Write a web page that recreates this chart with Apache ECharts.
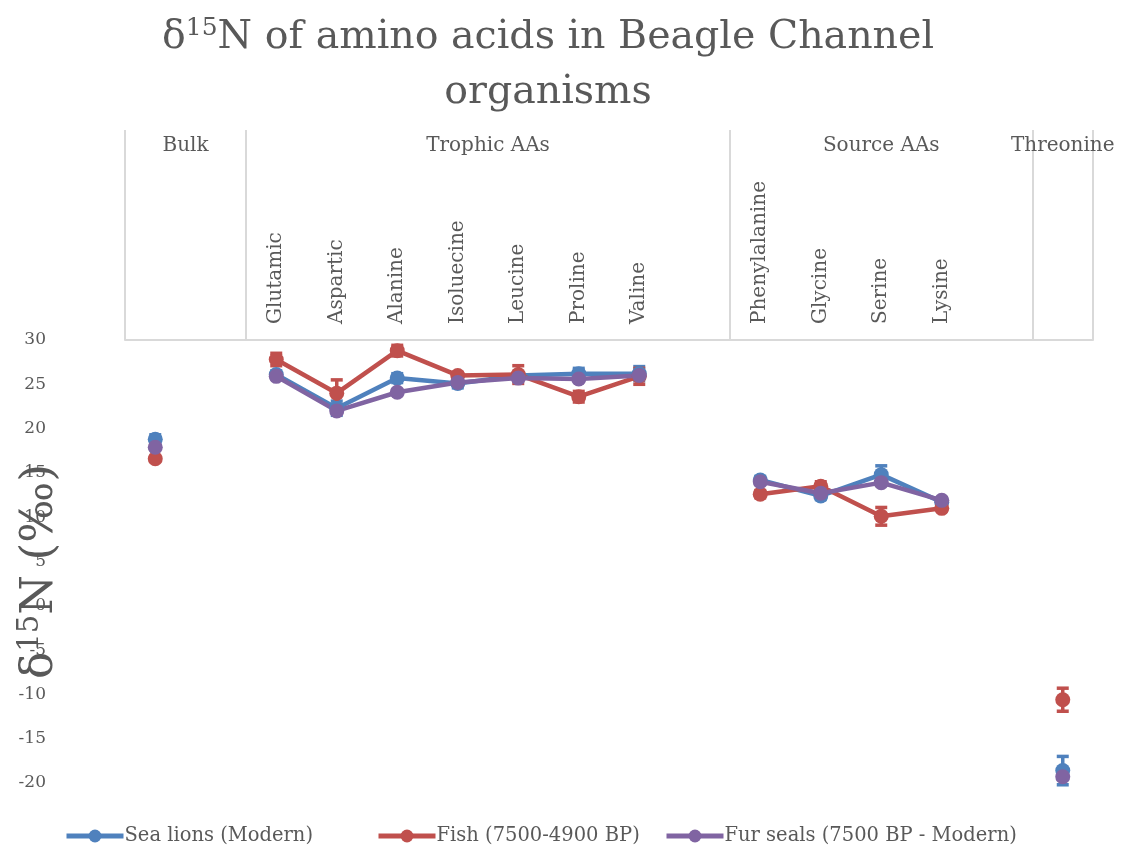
<!DOCTYPE html>
<html>
<head>
<meta charset="utf-8">
<title>δ15N of amino acids in Beagle Channel organisms</title>
<script src="https://cdn.jsdelivr.net/npm/echarts@6/dist/echarts.min.js"></script>
<style>
  html, body { margin: 0; padding: 0; background: #ffffff; }
  #chart { width: 1129px; height: 853px; }
</style>
</head>
<body>
<div id="chart"></div>
<script>
// Amino acid categories (blank entries are spacer slots between groups)
const categories = ['Bulk', '', 'Glutamic', 'Aspartic', 'Alanine', 'Isoluecine', 'Leucine', 'Proline', 'Valine', '',
  'Phenylalanine', 'Glycine', 'Serine', 'Lysine', '', 'Threonine'];

// Category groups and how many category slots each one spans
const groupNames = ['Bulk', 'Trophic AAs', 'Source AAs', 'Threonine'];
const groupSpans = [2, 8, 5, 1];

const seriesNames = ['Sea lions (Modern)', 'Fish (7500-4900 BP)', 'Fur seals (7500 BP - Modern)'];

// Mean δ15N values (‰)
const seaLions = [18.8, null, 26.1, 22.3, 25.7, 25.1, 26.0, 26.2, 26.2, null, 14.2, 12.4, 14.8, 11.7, null, -18.6];
const fish = [16.6, null, 27.8, 24.0, 28.8, 26.0, 26.1, 23.6, 25.9, null, 12.6, 13.5, 10.1, 11.0, null, -10.6];
const furSeals = [17.9, null, 25.9, 22.0, 24.1, 25.2, 25.7, 25.6, 26.0, null, 14.0, 12.7, 13.9, 11.9, null, -19.3];

// Standard deviations
const seaLionsErr = [0.5, null, 0.4, 0.8, 0.5, 0.5, 0.3, 0.6, 0.8, null, 0.4, 0.4, 1.0, 0.3, null, 1.6];
const fishErr = [0.3, null, 0.7, 1.5, 0.6, 0.3, 1.0, 0.6, 0.9, null, 0.4, 0.5, 1.0, 0.3, null, 1.3];
const furSealsErr = [0.3, null, 0.3, 0.3, 0.3, 0.3, 0.3, 0.3, 0.3, null, 0.3, 0.3, 0.3, 0.3, null, 0.3];

// Y axis range
const yMin = -20, yMax = 30, yStep = 5;

const colors = ['#4F81BD', '#C0504D', '#8064A2'];
const textColor = '#595959';
const frameColor = '#D9D9D9';
const serif = 'DejaVu Serif';

// Group boundaries and centres along the category axis
const groupEdges = [0];
groupSpans.forEach(function (s) { groupEdges.push(groupEdges[groupEdges.length - 1] + s); });
const groupCentres = groupSpans.map(function (s, i) { return groupEdges[i] + s / 2; });

function errorData(values, errs) {
  const out = [];
  values.forEach(function (v, i) {
    if (v != null && errs[i] != null) out.push([i, v - errs[i], v + errs[i]]);
  });
  return out;
}

function errorSeries(values, errs, color) {
  return {
    type: 'custom',
    xAxisIndex: 0,
    yAxisIndex: 0,
    silent: true,
    z: 1,
    data: errorData(values, errs),
    renderItem: function (params, api) {
      const lo = api.coord([api.value(0), api.value(1)]);
      const hi = api.coord([api.value(0), api.value(2)]);
      const half = 6;
      const style = { stroke: color, lineWidth: 3.5 };
      return {
        type: 'group',
        children: [
          { type: 'line', shape: { x1: lo[0], y1: lo[1], x2: hi[0], y2: hi[1] }, style: style },
          { type: 'line', shape: { x1: lo[0] - half, y1: lo[1], x2: lo[0] + half, y2: lo[1] }, style: style },
          { type: 'line', shape: { x1: hi[0] - half, y1: hi[1], x2: hi[0] + half, y2: hi[1] }, style: style }
        ]
      };
    }
  };
}

function lineSeries(name, values, color) {
  return {
    name: name,
    type: 'line',
    xAxisIndex: 0,
    yAxisIndex: 0,
    data: values,
    symbol: 'circle',
    symbolSize: 15,
    showSymbol: true,
    connectNulls: false,
    z: 3,
    lineStyle: { color: color, width: 4.5 },
    itemStyle: { color: color },
    emphasis: { disabled: true }
  };
}

function legendItem(name, left) {
  return {
    data: [name],
    left: left,
    bottom: 2,
    itemWidth: 57,
    itemHeight: 16,
    lineStyle: { width: 5 },
    textStyle: { fontFamily: serif, fontSize: 19.5, color: textColor, padding: [0, 0, 0, -4] }
  };
}

const chart = echarts.init(document.getElementById('chart'), null, { renderer: 'canvas' });

chart.setOption({
  animation: false,
  color: colors,
  title: {
    text: '{t|δ}{s|15}{t|N of amino acids in Beagle Channel}\n{t|organisms}',
    left: 548,
    textAlign: 'center',
    top: 10,
    padding: 0,
    textStyle: {
      fontWeight: 'normal',
      rich: {
        t: { fontFamily: serif, fontSize: 39.5, fontWeight: 'normal', color: textColor, lineHeight: 55 },
        s: { fontFamily: serif, fontSize: 25, fontWeight: 'normal', color: textColor, lineHeight: 55, padding: [0, 0, 18, 0] }
      }
    }
  },
  legend: [
    legendItem(seriesNames[0], 59),
    legendItem(seriesNames[1], 371),
    legendItem(seriesNames[2], 659)
  ],
  grid: { left: 125, right: 36, top: 340, bottom: 70, containLabel: false, outerBoundsMode: 'none' },
  xAxis: [
    {
      type: 'category',
      position: 'top',
      data: categories,
      boundaryGap: true,
      axisLine: { show: true, onZero: false, lineStyle: { color: frameColor, width: 2 } },
      axisTick: { show: false },
      axisLabel: {
        interval: 0,
        rotate: -90,
        margin: 16,
        fontFamily: serif,
        fontSize: 20,
        color: textColor,
        // single-category groups are named on the group row only
        formatter: function (v) { return groupNames.indexOf(v) >= 0 ? '' : v; }
      },
      splitLine: { show: false }
    },
    {
      type: 'value',
      position: 'top',
      min: 0,
      max: categories.length,
      axisLine: { show: false, onZero: false },
      splitLine: { show: false },
      axisTick: {
        show: true,
        customValues: groupEdges,
        length: 210,
        lineStyle: { color: frameColor, width: 2 }
      },
      axisLabel: {
        show: true,
        customValues: groupCentres,
        margin: 184,
        fontFamily: serif,
        fontSize: 20,
        color: textColor,
        formatter: function (v) {
          for (let i = 0; i < groupCentres.length; i++) {
            if (Math.abs(groupCentres[i] - v) < 1e-6) return groupNames[i];
          }
          return '';
        }
      }
    }
  ],
  yAxis: {
    type: 'value',
    min: yMin,
    max: yMax,
    interval: yStep,
    name: '{t|δ}{s|15}{t|N (‰)}',
    nameLocation: 'middle',
    nameRotate: 90,
    nameGap: 60,
    nameMoveOverlap: false,
    nameTextStyle: {
      padding: [0, 20, 0, 0],
      rich: {
        t: { fontFamily: serif, fontSize: 45.5, color: textColor, lineHeight: 50 },
        s: { fontFamily: serif, fontSize: 29, color: textColor, lineHeight: 50, padding: [0, 0, 20, 0] }
      }
    },
    axisLine: { show: false },
    axisTick: { show: false },
    splitLine: { show: false },
    axisLabel: {
      margin: 79,
      fontFamily: serif,
      fontSize: 17,
      color: textColor
    }
  },
  series: [
    errorSeries(seaLions, seaLionsErr, colors[0]),
    errorSeries(fish, fishErr, colors[1]),
    errorSeries(furSeals, furSealsErr, colors[2]),
    lineSeries(seriesNames[0], seaLions, colors[0]),
    lineSeries(seriesNames[1], fish, colors[1]),
    lineSeries(seriesNames[2], furSeals, colors[2])
  ]
});
</script>
</body>
</html>
